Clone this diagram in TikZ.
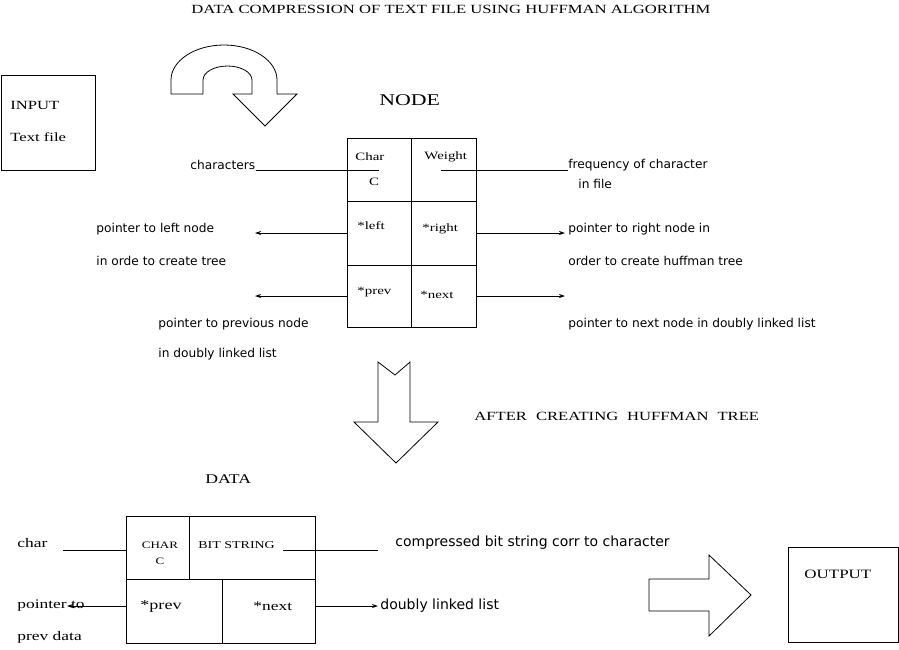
\documentclass[tikz,border=0pt]{standalone}
\usepackage{fontspec}
\setmainfont{Liberation Serif}[FakeStretch=1.33]
\newfontfamily\sansf{DejaVu Sans}
\usetikzlibrary{arrows.meta}
\newcommand{\myfs}[1]{\fontsize{#1}{#1}\selectfont}
\begin{document}
\begin{tikzpicture}[x=1pt,y=-1pt,line width=0.8pt,
  lbl/.style={inner sep=0,anchor=west},
  ser/.style={lbl,font=\myfs{12.5}},
  cellt/.style={lbl,font=\myfs{11.2}},
  sns/.style={lbl,font=\sansf\myfs{12.2}},
  cell/.style={draw,inner sep=0,outer sep=0},
  arr/.style={-{Stealth[length=6pt,width=4pt]}},
  blk/.style={draw,line join=miter}]
\useasboundingbox (0,0) rectangle (899,649);

% title
\node[inner sep=0,font=\myfs{12.5}] (title) at (451,9) {DATA COMPRESSION OF TEXT FILE USING HUFFMAN ALGORITHM};

% input box
\node[cell,minimum width=94pt,minimum height=95pt] (inBox) at (48,122.5) {};
\node[ser] (inT) at (10,105) {INPUT};
\node[ser] (inT2) at (10,137) {Text file};

% curved arrow
\draw[blk] (171,94) -- (171,80) .. controls (171,60.7) and (194.7,45) .. (224,45)
  .. controls (253.3,45) and (277,60.7) .. (277,80) -- (277,94) -- (297,94) -- (265,126)
  -- (233,94) -- (252,94) -- (252,80) .. controls (252,72.3) and (241,66) .. (227.5,66)
  .. controls (214,66) and (203,72.3) .. (203,80) -- (203,94) -- cycle;

% NODE
\node[lbl,font=\myfs{16.4}] (nodeT) at (379,100) {NODE};
\node[cell,minimum width=64pt,minimum height=63pt] (nChar) at (379,169.5) {};
\node[cell,minimum width=65pt,minimum height=63pt] (nWeight) at (443.5,169.5) {};
\node[cell,minimum width=64pt,minimum height=64pt] (nLeft) at (379,233) {};
\node[cell,minimum width=65pt,minimum height=64pt] (nRight) at (443.5,233) {};
\node[cell,minimum width=64pt,minimum height=62pt] (nPrev) at (379,296) {};
\node[cell,minimum width=65pt,minimum height=62pt] (nNext) at (443.5,296) {};
\node[cellt] (tChar) at (355,157) {Char};
\node[inner sep=0,font=\myfs{11.2}] (tC) at (374,182) {C};
\node[cellt] (tWeight) at (424,157) {Weight};
\node[cellt] (tLeft) at (357,226) {*left};
\node[cellt] (tRight) at (422,229) {*right};
\node[cellt] (tPrev) at (357,292) {*prev};
\node[cellt] (tNext) at (420,295) {*next};

% labels around NODE
\node[sns] (chars) at (190,165) {characters};
\node[sns] (freq) at (568,165) {frequency of character};
\node[sns] (freq2) at (578,184) {in file};
\node[sns] (pl1) at (96,229) {pointer to left node};
\node[sns] (pl2) at (96,261) {in orde to create tree};
\node[sns] (pr1) at (568,229) {pointer to right node in};
\node[sns] (pr2) at (568,261) {order to create huffman tree};
\node[sns] (pp1) at (158,324) {pointer to previous node};
\node[sns] (pp2) at (158,354) {in doubly linked list};
\node[sns] (pn1) at (568,324) {pointer to next node in doubly linked list};

\coordinate (cIn) at (379,170);
\coordinate (wIn) at (441,170);
\coordinate (leftEnd) at (255,233);
\coordinate (rightEnd) at (565,233);
\coordinate (prevEnd) at (255,296);
\coordinate (nextEnd) at (565,296);
\draw (chars.east |- cIn) -- (cIn);
\draw (wIn) -- (freq.west |- wIn);
\draw[arr] (nLeft.west) -- (leftEnd);
\draw[arr] (nRight.east) -- (rightEnd);
\draw[arr] (nPrev.west) -- (prevEnd);
\draw[arr] (nNext.east) -- (nextEnd);

% down block arrow
\draw[blk] (378,362) -- (395,375) -- (410,362) -- (410,422) -- (438,422) -- (396,463)
  -- (354,422) -- (378,422) -- cycle;
\node[ser] (after) at (474,416) {AFTER\hspace{9pt}CREATING\hspace{9pt}HUFFMAN\hspace{9pt}TREE};

% DATA
\node[lbl,font=\myfs{13.3}] (dataT) at (205,479) {DATA};
\node[cell,minimum width=63pt,minimum height=63pt] (dChar) at (157.5,547.5) {};
\node[cell,minimum width=126pt,minimum height=63pt] (dBit) at (252,547.5) {};
\node[cell,minimum width=96pt,minimum height=64pt] (dPrev) at (174,611) {};
\node[cell,minimum width=93pt,minimum height=64pt] (dNext) at (268.5,611) {};
\node[inner sep=0,font=\myfs{9.8}] (dC1) at (160,545) {CHAR};
\node[inner sep=0,font=\myfs{9.8}] (dC2) at (160,561) {C};
\node[lbl,font=\myfs{10.5}] (dBitT) at (198,545) {BIT STRING};
\node[lbl,font=\myfs{13.6}] (dPrevT) at (140,606) {*prev};
\node[lbl,font=\myfs{13.1}] (dNextT) at (253,606) {*next};

\node[lbl,font=\myfs{13.1}] (dcharL) at (17,543) {char};
\node[lbl,font=\myfs{13.1}] (dptr1) at (17,606) {pointer to};
\node[lbl,font=\myfs{13.1}] (dptr2) at (17,637) {prev data};
\node[lbl,font=\sansf\myfs{14}] (dcomp) at (395,543) {compressed bit string corr to character};
\node[lbl,font=\sansf\myfs{14}] (ddll) at (380,606) {doubly linked list};

\coordinate (dc1) at (63,550);
\coordinate (bl1) at (283,550);
\coordinate (bl2) at (378,550);
\coordinate (pa) at (67,606);
\coordinate (na) at (378,606);
\draw (dc1) -- (dc1 -| dChar.west);
\draw (bl1) -- (bl2);
\draw[arr] (dPrev.west |- pa) -- (pa);
\draw[arr] (dNext.east |- na) -- (na);

% right block arrow
\draw[blk] (649,579) -- (709,579) -- (709,555) -- (751,595) -- (709,636) -- (709,611)
  -- (649,611) -- cycle;

% output
\node[cell,minimum width=110pt,minimum height=95pt] (outBox) at (843,594.5) {};
\node[lbl,font=\myfs{12.75}] (outT) at (804,574) {OUTPUT};
\end{tikzpicture}
\end{document}
